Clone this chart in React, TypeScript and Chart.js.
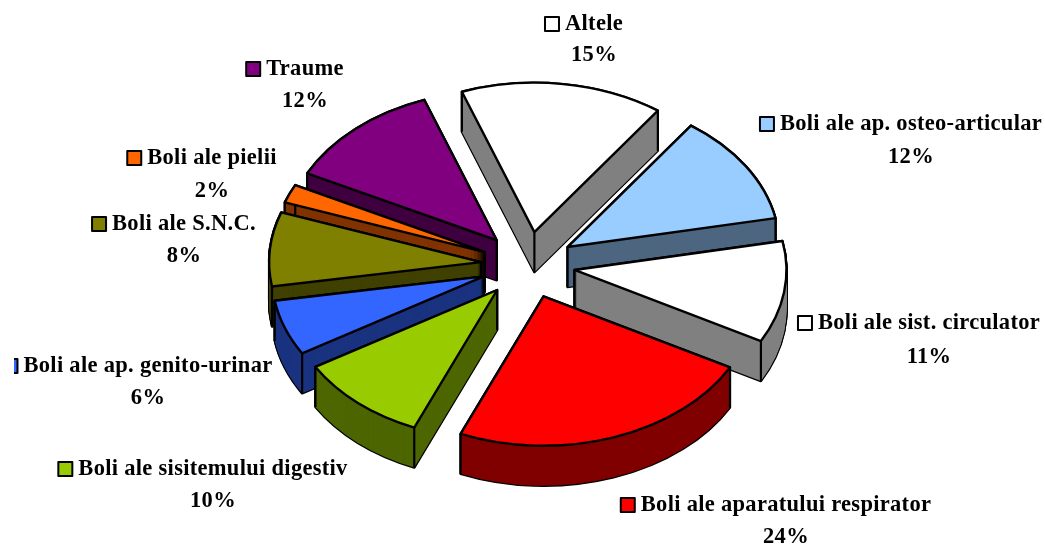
import { useEffect, useRef } from "react";
import { Chart, registerables } from "chart.js";

Chart.register(...registerables);

const categories = [
  "Altele",
  "Boli ale ap. osteo-articular",
  "Boli ale sist. circulator",
  "Boli ale aparatului respirator",
  "Boli ale sisitemului digestiv",
  "Boli ale ap. genito-urinar",
  "Boli ale S.N.C.",
  "Boli ale pielii",
  "Traume",
];
const values = [15.45, 12, 11, 23.5, 10, 6, 8, 2, 12.05];
const faceColors = ["#FFFFFF", "#99CCFF", "#FFFFFF", "#FF0000", "#99CC00", "#3366FF", "#808000", "#FF6600", "#800080"];
const wallColors = ["#808080", "#4D6680", "#808080", "#800000", "#4D6600", "#1A3380", "#404000", "#803300", "#400040"];

// centre of each label's text: [x, first line y, second line y]
const labelAnchors = [
  [594, 24, 55],
  [911, 124, 157],
  [929, 323, 357],
  [786, 505, 537],
  [213, 469, 501],
  [148, 366, 398],
  [184, 224, 256],
  [212, 158, 191],
  [305, 69, 101],
];

const TILT = 0.705;
const DEPTH = 40;
const EXPLODE = 47;
const FONT = "bold 22.5px 'Liberation Serif'";

const pie3d = {
  id: "pie3d",
  beforeDatasetDraw(chart: any, args: any) {
    const ctx = chart.ctx;
    const arcs = args.meta.data.map((a: any, i: number) => ({ a, i }));
    const mid = (a: any) => (a.startAngle + a.endAngle) / 2;
    arcs.sort((p: any, q: any) => Math.sin(mid(p.a)) - Math.sin(mid(q.a)));

    for (const { a, i } of arcs) {
      const m = mid(a);
      const ox = a.x + Math.cos(m) * EXPLODE;
      const oy = Math.sin(m) * EXPLODE * TILT + a.y;
      const r = a.outerRadius;
      const slice = (d: number) => {
        ctx.save();
        ctx.translate(ox, oy + d);
        ctx.scale(1, TILT);
        ctx.beginPath();
        ctx.moveTo(0, 0);
        ctx.arc(0, 0, r, a.startAngle, a.endAngle);
        ctx.closePath();
        ctx.restore();
      };
      ctx.lineJoin = "round";
      ctx.strokeStyle = "#000";
      ctx.lineWidth = 2.4;
      for (let d = DEPTH; d >= 0; d--) {
        slice(d);
        ctx.stroke();
      }
      ctx.fillStyle = wallColors[i];
      for (let d = DEPTH; d >= 0; d--) {
        slice(d);
        ctx.fill();
      }
      const corners = [
        [ox, oy],
        [ox + Math.cos(a.startAngle) * r, oy + Math.sin(a.startAngle) * r * TILT],
        [ox + Math.cos(a.endAngle) * r, oy + Math.sin(a.endAngle) * r * TILT],
      ];
      ctx.lineWidth = 2.2;
      for (const [x, y] of corners) {
        ctx.beginPath();
        ctx.moveTo(x, y);
        ctx.lineTo(x, y + DEPTH);
        ctx.stroke();
      }
      slice(0);
      ctx.fillStyle = faceColors[i];
      ctx.fill();
      ctx.lineWidth = 2.4;
      ctx.stroke();
    }
    return false;
  },
  afterDraw(chart: any) {
    const ctx = chart.ctx;
    ctx.save();
    ctx.font = FONT;
    ctx.letterSpacing = "0.3px";
    ctx.textBaseline = "middle";
    ctx.textAlign = "center";
    const total = values.reduce((s, v) => s + v, 0);
    categories.forEach((name, i) => {
      const [x, y1, y2] = labelAnchors[i];
      ctx.fillStyle = "#000";
      ctx.fillText(name, x, y1);
      ctx.fillText(`${Math.round((values[i] / total) * 100)}%`, x, y2);
      const left = x - ctx.measureText(name).width / 2;
      ctx.save();
      ctx.beginPath();
      ctx.rect(14, 0, 1031, 547);
      ctx.clip();
      ctx.fillStyle = faceColors[i];
      ctx.strokeStyle = "#000";
      ctx.lineWidth = 2;
      ctx.fillRect(left - 20, y1 - 7, 14, 14);
      ctx.strokeRect(left - 20, y1 - 7, 14, 14);
      ctx.restore();
    });
    ctx.restore();
  },
};

export default function App() {
  const ref = useRef<HTMLCanvasElement | null>(null);
  useEffect(() => {
    const chart = new Chart(ref.current as HTMLCanvasElement, {
      type: "pie",
      data: {
        labels: categories,
        datasets: [{ data: values, backgroundColor: faceColors, borderColor: "#000" }],
      },
      options: {
        animation: false,
        responsive: false,
        rotation: -20,
        radius: 212,
        layout: { padding: { left: 11, bottom: 17 } },
        plugins: { legend: { display: false }, tooltip: { enabled: false } },
      },
      plugins: [pie3d],
    } as any);
    return () => chart.destroy();
  }, []);
  return (
    <canvas
      ref={ref}
      width={1045}
      height={547}
      style={{ position: "absolute", left: 0, top: 0, background: "#fff" }}
    />
  );
}
